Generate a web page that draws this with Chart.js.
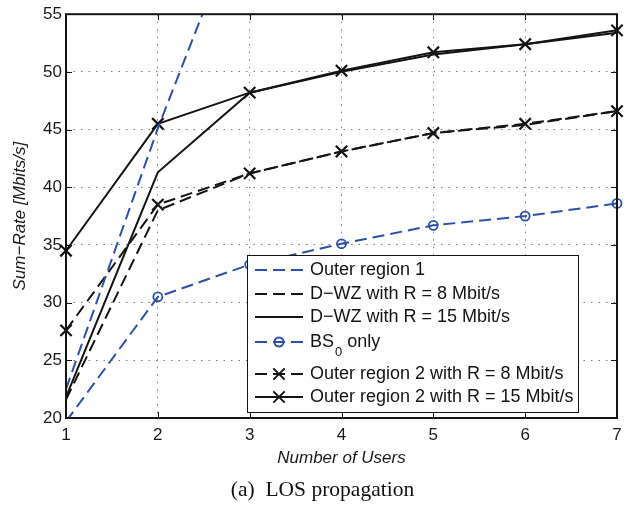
<!DOCTYPE html>
<html>
<head>
<meta charset="utf-8">
<script src="https://cdn.jsdelivr.net/npm/chart.js@4"></script>
<style>
  html, body { margin: 0; padding: 0; background: #fff; }
</style>
</head>
<body>
<canvas id="sumRateChart" width="635" height="506"></canvas>
<script>
// Data
const users = [1, 2, 3, 4, 5, 6, 7];
const yTicks = [20, 25, 30, 35, 40, 45, 50, 55];
const outerRegion1 = [22.5, 45.1, 65.5, null, null, null, null];
const dwz8 = [21.6, 38.0, 41.2, 43.1, 44.7, 45.4, 46.6];
const dwz15 = [21.8, 41.3, 48.2, 50.0, 51.5, 52.4, 53.4];
const bs0Only = [19.7, 30.5, 33.3, 35.1, 36.7, 37.5, 38.6];
const outer2R8 = [27.6, 38.5, 41.2, 43.1, 44.7, 45.5, 46.6];
const outer2R15 = [34.5, 45.5, 48.2, 50.1, 51.7, 52.4, 53.6];

const BLUE = '#2d50aa';
const BLACK = '#141414';
const DASH = [12, 6];
const FONT = 'Liberation Sans';

const points = vals => users.map((u, i) => ({x: u, y: vals[i]}));

// MATLAB hides markers that fall outside the axes
const markerRadius = r => ctx => (ctx.raw && ctx.raw.y < yTicks[0]) ? 0 : r;

function series(label, vals, color, dash, marker) {
    return {
        label: label,
        data: points(vals),
        borderColor: color,
        borderWidth: 2,
        borderDash: dash,
        backgroundColor: 'rgba(0,0,0,0)',
        pointStyle: marker || 'circle',
        pointRadius: marker ? markerRadius(marker === 'circle' ? 4.5 : 8) : 0,
        pointBorderWidth: marker === 'circle' ? 1.8 : 2.2,
        pointBorderColor: color,
        pointBackgroundColor: 'rgba(0,0,0,0)',
        tension: 0,
        clip: {left: 12, right: 12, top: 0, bottom: 0}
    };
}

// Legend inside the axes, boxed like MATLAB's
const legendRowY = [15, 39, 62, 87, 119, 142];
const insideLegend = {
    id: 'insideLegend',
    afterDatasetsDraw(chart) {
        const {ctx, chartArea: a} = chart;
        const w = 331, h = 157;
        const left = a.right - 39 - w;
        const top = a.bottom - 6 - h;
        ctx.save();
        ctx.fillStyle = '#fff';
        ctx.fillRect(left, top, w, h);
        ctx.strokeStyle = BLACK;
        ctx.lineWidth = 1;
        ctx.strokeRect(left + 0.5, top + 0.5, w, h);

        chart.data.datasets.forEach((ds, i) => {
            const y = top + legendRowY[i];
            ctx.strokeStyle = ds.borderColor;
            ctx.lineWidth = ds.borderWidth;
            ctx.setLineDash(ds.borderDash || []);
            ctx.beginPath();
            ctx.moveTo(left + 8, y);
            ctx.lineTo(left + 56, y);
            ctx.stroke();
            ctx.setLineDash([]);
            if (typeof ds.pointRadius === 'function') {
                ctx.fillStyle = 'rgba(0,0,0,0)';
                ctx.strokeStyle = ds.pointBorderColor;
                Chart.helpers.drawPoint(ctx, {
                    pointStyle: ds.pointStyle,
                    radius: ds.pointStyle === 'circle' ? 4.5 : 8,
                    rotation: 0,
                    borderWidth: ds.pointBorderWidth
                }, left + 32, y);
            }
            // text, with TeX-like "_x" subscripts
            ctx.fillStyle = BLACK;
            ctx.textBaseline = 'middle';
            ctx.textAlign = 'left';
            let x = left + 63;
            ds.label.split(/(_\w)/).forEach(part => {
                if (!part) return;
                if (part[0] === '_') {
                    ctx.font = '13px "' + FONT + '"';
                    ctx.fillText(part[1], x + 1, y + 10);
                    x += ctx.measureText(part[1]).width + 1;
                } else {
                    ctx.font = '18px "' + FONT + '"';
                    ctx.fillText(part, x, y);
                    x += ctx.measureText(part).width;
                }
            });
        });
        ctx.restore();
    }
};

// Box around the axes with inward tick marks, plus the sub-figure caption
const axesFrame = {
    id: 'axesFrame',
    afterDraw(chart) {
        const {ctx, chartArea: a, scales: {x, y}} = chart;
        const tick = 6;
        ctx.save();
        ctx.strokeStyle = BLACK;
        ctx.lineWidth = 1;
        ctx.beginPath();
        x.ticks.forEach(t => {
            const px = Math.round(x.getPixelForValue(t.value)) + 0.5;
            ctx.moveTo(px, a.bottom); ctx.lineTo(px, a.bottom - tick);
            ctx.moveTo(px, a.top); ctx.lineTo(px, a.top + tick);
        });
        y.ticks.forEach(t => {
            const py = Math.round(y.getPixelForValue(t.value)) + 0.5;
            ctx.moveTo(a.left, py); ctx.lineTo(a.left + tick, py);
            ctx.moveTo(a.right, py); ctx.lineTo(a.right - tick, py);
        });
        ctx.stroke();
        ctx.lineWidth = 2;
        ctx.strokeRect(a.left, a.top, a.right - a.left, a.bottom - a.top);

        ctx.fillStyle = '#111';
        ctx.font = '21.5px "Liberation Serif"';
        ctx.textAlign = 'center';
        ctx.textBaseline = 'middle';
        ctx.fillText('(a)\u2002LOS propagation', chart.width / 2 + 5, 490);
        ctx.restore();
    }
};

const gridOpts = {color: '#7a7a7a', lineWidth: 1, drawTicks: false};
const borderOpts = {display: false, dash: [1.5, 6]};
const tickFont = {family: FONT, size: 17};

new Chart(document.getElementById('sumRateChart').getContext('2d'), {
    type: 'line',
    data: {
        datasets: [
            series('Outer region 1', outerRegion1, BLUE, DASH),
            series('D\u2212WZ with R = 8 Mbit/s', dwz8, BLACK, DASH),
            series('D\u2212WZ with R = 15 Mbit/s', dwz15, BLACK, []),
            series('BS_0 only', bs0Only, BLUE, DASH, 'circle'),
            series('Outer region 2 with R = 8 Mbit/s', outer2R8, BLACK, DASH, 'crossRot'),
            series('Outer region 2 with R = 15 Mbit/s', outer2R15, BLACK, [], 'crossRot')
        ]
    },
    options: {
        responsive: false,
        animation: false,
        events: [],
        layout: {padding: {top: 12, right: 18, left: 0, bottom: 38}},
        plugins: {
            legend: {display: false},
            tooltip: {enabled: false}
        },
        scales: {
            x: {
                type: 'linear',
                min: users[0],
                max: users[users.length - 1],
                afterBuildTicks: s => { s.ticks = users.map(v => ({value: v})); },
                afterFit: s => { s.height = 50; },
                grid: gridOpts,
                border: borderOpts,
                ticks: {padding: 7, color: '#1a1a1a', font: tickFont},
                title: {
                    display: true,
                    text: 'Number of Users',
                    color: '#1a1a1a',
                    font: {family: FONT, size: 17, style: 'italic'},
                    padding: {top: 0, bottom: 0}
                }
            },
            y: {
                min: yTicks[0],
                max: yTicks[yTicks.length - 1],
                afterBuildTicks: s => { s.ticks = yTicks.map(v => ({value: v})); },
                afterFit: s => { s.width = 66; },
                grid: gridOpts,
                border: borderOpts,
                ticks: {padding: 4, color: '#1a1a1a', font: tickFont},
                title: {
                    display: true,
                    text: 'Sum\u2212Rate [Mbits/s]',
                    color: '#1a1a1a',
                    font: {family: FONT, size: 17, style: 'italic'},
                    padding: {top: 10.5, bottom: 0}
                }
            }
        }
    },
    plugins: [insideLegend, axesFrame]
});
</script>
</body>
</html>
